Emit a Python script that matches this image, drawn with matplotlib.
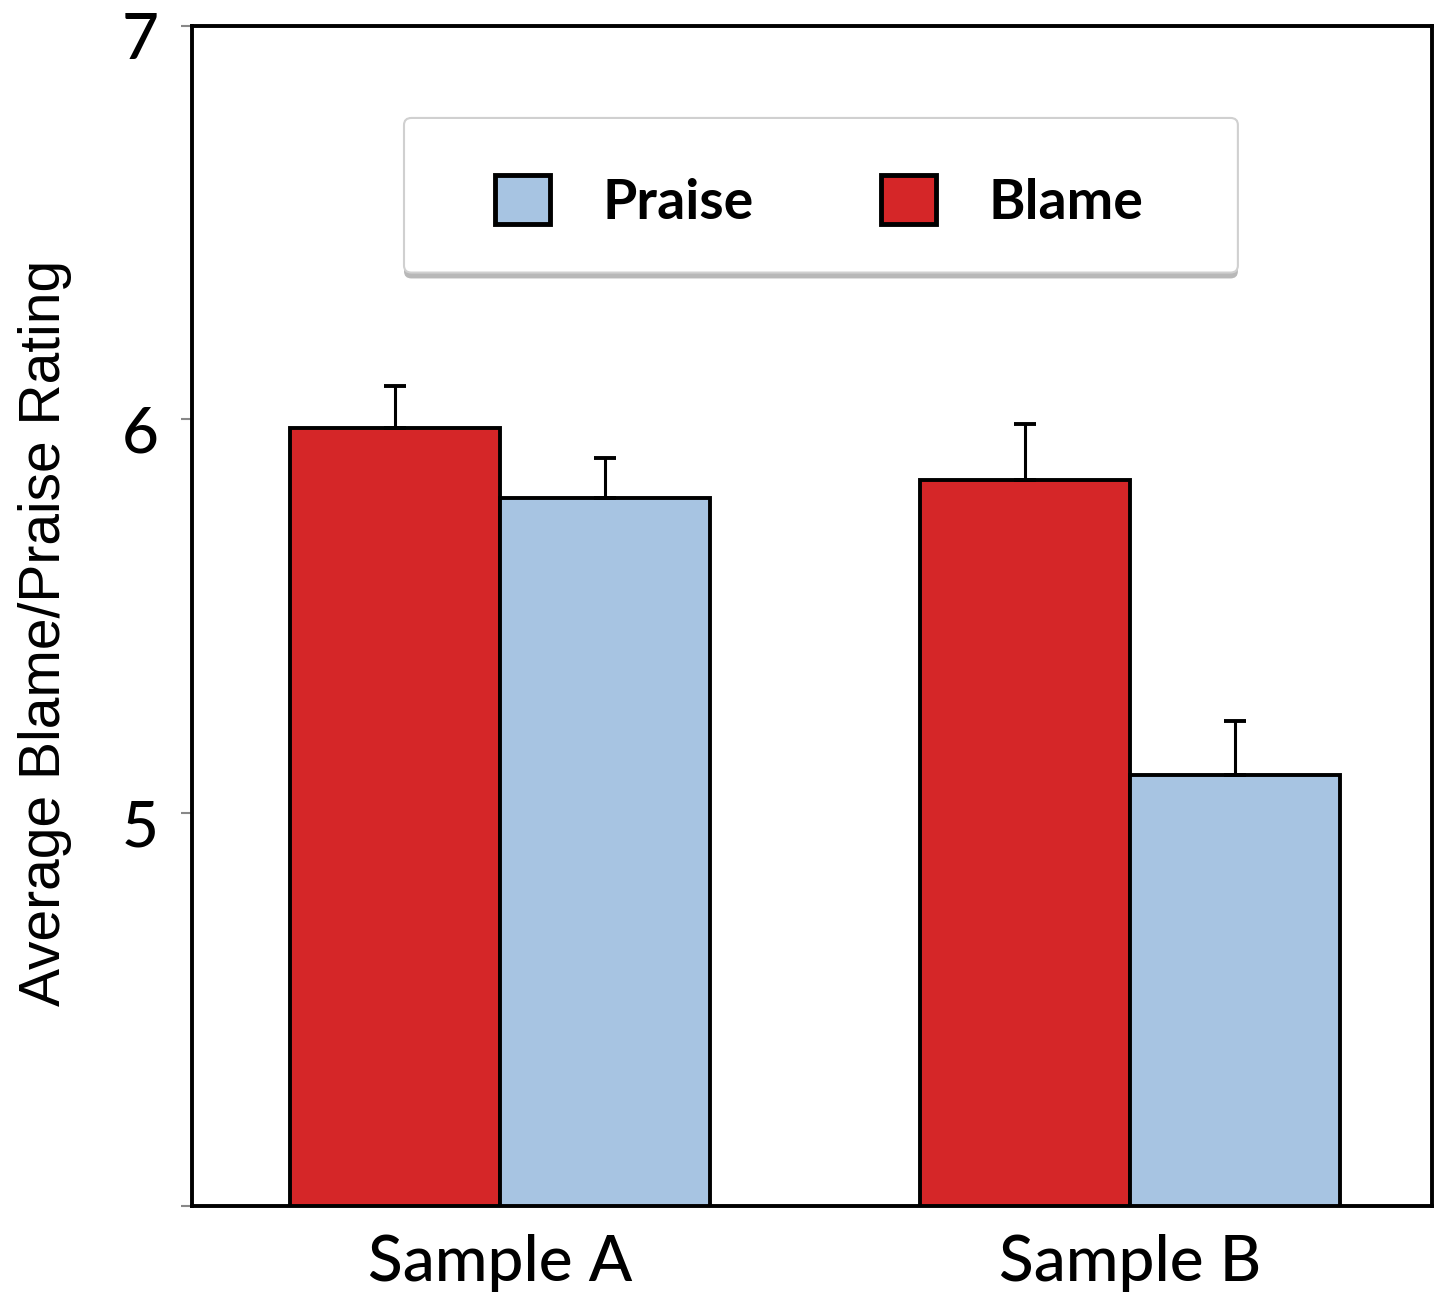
import matplotlib
matplotlib.use("Agg")
import matplotlib.pyplot as plt
import matplotlib.patches as mpatches
import matplotlib.transforms as mtransforms
import numpy as np

groups = ["Sample A", "Sample B"]
blame = [5.977, 5.845]
blame_err = [0.107, 0.142]
praise = [5.800, 5.096]
praise_err = [0.101, 0.138]
yticks = [4, 5, 6, 7]
ytick_labels = ["", "5", "6", "7"]

RED = "#D52628"
BLUE = "#A7C4E2"

fig = plt.figure(figsize=(14.39, 12.95), dpi=100)
ax = fig.add_axes([0.1334, 0.0687, 0.8617, 0.9113])

x = np.arange(len(groups))
w = 1 / 3
ax.bar(x - w / 2, blame, w, color=RED, edgecolor="black", linewidth=2.8, zorder=2, label="Blame")
ax.bar(x + w / 2, praise, w, color=BLUE, edgecolor="black", linewidth=2.8, zorder=2, label="Praise")
z = [0, 0]
ax.errorbar(x - w / 2, blame, yerr=[z, blame_err], fmt="none", ecolor="black",
            elinewidth=2.2, capsize=8, capthick=2.8, zorder=3)
ax.errorbar(x + w / 2, praise, yerr=[z, praise_err], fmt="none", ecolor="black",
            elinewidth=2.2, capsize=8, capthick=2.8, zorder=3)

ax.set_xlim(-0.489, 1.479)
ax.set_ylim(4, 7)
ax.set_yticks(yticks)
ax.set_yticklabels(ytick_labels, fontsize=46, family="Lato", weight="medium")
ax.set_xticks(x)
ax.set_xticklabels(groups, fontsize=46, family="Lato", weight="medium")
ax.tick_params(axis="y", direction="out", length=8, width=1.5, color="#888888", pad=16)
ax.tick_params(axis="x", length=0, pad=20)
# shift y tick labels slightly downward as in the reference
off = mtransforms.ScaledTranslation(0, -10 / 100, fig.dpi_scale_trans)
for lab in ax.get_yticklabels():
    lab.set_transform(lab.get_transform() + off)
for s in ax.spines.values():
    s.set_linewidth(2.8)
    s.set_color("black")

ax.set_ylabel("Average Blame/Praise Rating", fontsize=41, family="Liberation Sans")
ax.yaxis.set_label_coords(-0.097, 0.4856)

# legend frame
shadow = mpatches.FancyBboxPatch((0.171, 0.786), 0.6725, 0.131,
                                 boxstyle="round,pad=0,rounding_size=0.006",
                                 transform=ax.transAxes, facecolor="#b8b8b8",
                                 edgecolor="none", zorder=4)
frame = mpatches.FancyBboxPatch((0.171, 0.791), 0.6725, 0.131,
                                boxstyle="round,pad=0,rounding_size=0.006",
                                transform=ax.transAxes, facecolor="white",
                                edgecolor="#d0d0d0", linewidth=1.5, zorder=5)
ax.add_patch(shadow)
ax.add_patch(frame)

h_praise = mpatches.Patch(facecolor=BLUE, edgecolor="black", linewidth=3.5)
h_blame = mpatches.Patch(facecolor=RED, edgecolor="black", linewidth=3.5)
leg = ax.legend([h_praise, h_blame], ["Praise", "Blame"], ncol=2, loc="center",
                bbox_to_anchor=(0.506, 0.851), frameon=False,
                prop={"family": "Lato", "weight": "bold", "size": 40},
                handlelength=0.98, handleheight=0.98, handletextpad=0.95,
                columnspacing=2.3)
leg.set_zorder(6)

fig.savefig("out.png", dpi=100)
